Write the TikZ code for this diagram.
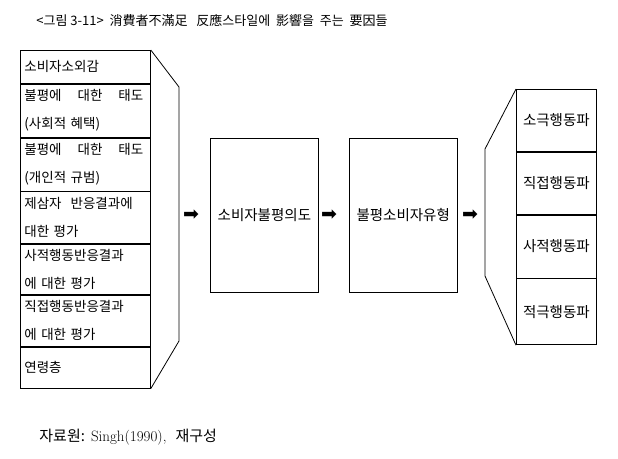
\documentclass[tikz,border=0pt]{standalone}
\usepackage{fontspec}
\newfontfamily\kr{Noto Sans CJK KR}
\newfontfamily\sym{DejaVu Sans}
\usetikzlibrary{positioning}

\begin{document}
\begin{tikzpicture}[x=1pt,y=-1pt,inner sep=0pt,line width=0.8pt,
  cell/.style={draw,anchor=north west,minimum width=128pt,text width=122pt,inner xsep=4pt,align=left,font=\kr\fontsize{13.5}{28}\selectfont},
  mid/.style={draw,minimum width=108pt,minimum height=154pt,font=\kr\fontsize{14.5}{16}\selectfont},
  kind/.style={draw,anchor=north west,minimum width=80pt,font=\kr\fontsize{14.5}{16}\selectfont},
  arr/.style={font=\sym\fontsize{19}{20}\selectfont}]
\useasboundingbox (0,0) rectangle (618,458);
  \node[anchor=west,font=\kr\fontsize{13}{14}\selectfont] (title) at (36,21) {<그림\ 3-11>\ \ 消費者不滿足\ \ \ 反應스타일에\ \ 影響을\ \ 주는\ \ 要因들};
  % factors
  \node[cell,minimum height=33pt] (r1) at (20,50) {소비자소외감};
  \node[cell,minimum height=53pt] (r2) at (r1.south west) {불평에\hspace{16pt}대한\hspace{16pt}태도\\(사회적 혜택)};
  \node[cell,minimum height=53pt] (r3) at (r2.south west) {불평에\hspace{16pt}대한\hspace{16pt}태도\\(개인적 규범)};
  \node[cell,minimum height=52pt] (r4) at (r3.south west) {제삼자\hspace{9pt}반응결과에\\대한 평가};
  \node[cell,minimum height=50pt] (r5) at (r4.south west) {사적행동반응결과\\에 대한 평가};
  \node[cell,minimum height=51pt] (r6) at (r5.south west) {직접행동반응결과\\에 대한 평가};
  \node[cell,minimum height=41pt] (r7) at (r6.south west) {연령층};
  \draw (r1.north east) -- (179,87) -- (179,341) -- (r7.south east);
  % middle
  \node[mid,anchor=north west] (intent) at (210,138) {소비자불평의도};
  \node[mid,right=30pt of intent] (type) {불평소비자유형};
  % types
  \node[kind,minimum height=62pt] (k1) at (516,89) {소극행동파};
  \node[kind,minimum height=62pt] (k2) at (k1.south west) {직접행동파};
  \node[kind,minimum height=63pt] (k3) at (k2.south west) {사적행동파};
  \node[kind,minimum height=66pt] (k4) at (k3.south west) {적극행동파};
  \draw (k1.north west) -- (485,149) -- (485,276) -- (k4.south west);
  % arrows
  \node[arr] (a1) at (191,215) {➡};
  \node[arr] (a2) at (329,215) {➡};
  \node[arr] (a3) at (470,215) {➡};
  \node[anchor=west,font=\fontsize{15}{16}\selectfont] (source) at (39,437) {{\kr 자료원:} Singh(1990),\ \ {\kr 재구성}};
\end{tikzpicture}
\end{document}
